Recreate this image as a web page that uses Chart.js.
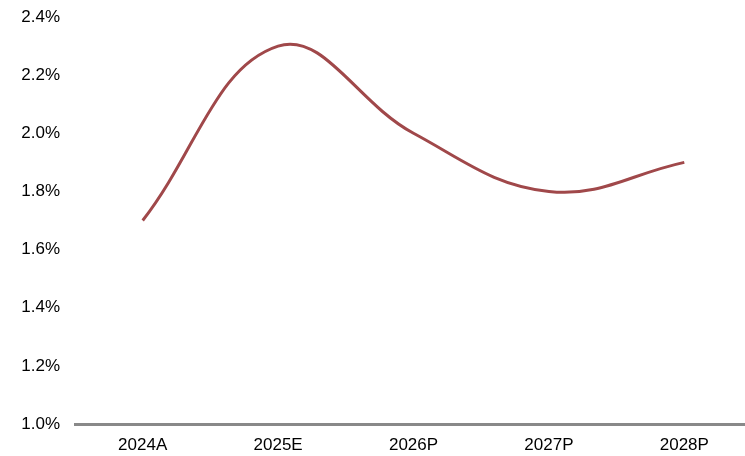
<!DOCTYPE html>
<html>
<head>
<meta charset="utf-8">
<script src="https://cdn.jsdelivr.net/npm/chart.js@4/dist/chart.umd.min.js"></script>
<style>
  html, body { margin: 0; padding: 0; background: #fff; overflow: hidden; }
  #wrap { width: 745px; height: 456px; overflow: hidden; }
  #c { display: block; }
</style>
</head>
<body>
<div id="wrap"><canvas id="c" width="752" height="456"></canvas></div>
<script>
// Annual rate by period (%)
const categories = ['2024A', '2025E', '2026P', '2027P', '2028P'];
const rateValues = [1.7, 2.3, 2.0, 1.8, 1.9];
const yTicks = [1.0, 1.2, 1.4, 1.6, 1.8, 2.0, 2.2, 2.4];

new Chart(document.getElementById('c'), {
  type: 'line',
  data: {
    labels: categories,
    datasets: [{
      data: rateValues,
      borderColor: '#a0484a',
      borderWidth: 3,
      pointRadius: 0,
      tension: 0.4,
      fill: false
    }]
  },
  options: {
    responsive: false,
    animation: false,
    layout: { padding: { top: 17, right: 0, bottom: 0, left: 0 } },
    plugins: { legend: { display: false }, tooltip: { enabled: false } },
    scales: {
      x: {
        offset: true,
        afterFit: (axis) => {
          axis.height = 32;
          axis.paddingLeft = 0;
          axis.paddingRight = 0;
        },
        grid: { display: false, drawTicks: false },
        border: { display: true, color: '#898989', width: 3 },
        ticks: { color: '#000', font: { family: 'Liberation Sans, Arial', size: 17 }, padding: 11 }
      },
      y: {
        min: yTicks[0],
        max: yTicks[yTicks.length - 1],
        afterBuildTicks: (axis) => { axis.ticks = yTicks.map(v => ({ value: v })); },
        afterFit: (axis) => {
          axis.width = 75;
          axis.paddingTop = 0;
          axis.paddingBottom = 0;
        },
        grid: { display: false, drawTicks: false },
        border: { display: false },
        ticks: {
          color: '#000',
          padding: 15,
          font: { family: 'Liberation Sans, Arial', size: 17 },
          callback: (v) => Number(v).toFixed(1) + '%'
        }
      }
    }
  }
});
</script>
</body>
</html>
